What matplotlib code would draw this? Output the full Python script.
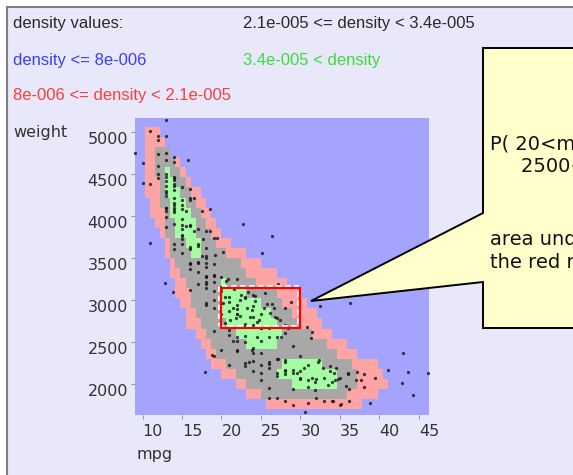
import numpy as np
import matplotlib
matplotlib.use("Agg")
import matplotlib.pyplot as plt
from matplotlib.colors import ListedColormap
from matplotlib.patches import Rectangle, Polygon
from matplotlib.lines import Line2D
from matplotlib.transforms import offset_copy

# ---------------- density bands ----------------
# one row per weight step; each band is given by its mpg extent in that row
row_weight = [5000, 4880, 4760, 4640, 4520, 4400, 4280, 4160, 4040, 3920,
              3800, 3680, 3560, 3440, 3320, 3200, 3080, 2960, 2840, 2720,
              2600, 2480, 2360, 2240, 2120, 2000, 1880, 1760]
row_step = 120

red_lo = [10.57, 10.57, 10.57, 10.57, 10.57, 10.57, 10.57, 10.70, 10.95, 11.58,
          12.47, 12.85, 13.10, 13.35, 13.73, 14.11, 14.49, 14.75, 15.38, 15.76,
          16.65, 17.28, 17.91, 18.80, 20.06, 21.71, 22.97, 25.51]
red_hi = [12.47, 13.10, 13.73, 14.75, 15.76, 16.39, 17.28, 17.91, 18.54, 19.43,
          20.06, 21.33, 22.97, 25.13, 26.77, 28.04, 29.94, 30.95, 31.84, 32.72,
          34.11, 35.63, 37.53, 39.81, 40.70, 40.95, 40.06, 37.78]

gray_lo = [None, None, 11.58, 11.58, 11.84, 11.96, 12.22, 12.47, 12.59, 12.85,
           13.10, 13.23, 13.73, 14.49, 15.13, 15.63, 16.01, 16.27, 16.65, 17.28,
           17.91, 18.80, 19.56, 20.44, 21.96, 23.35, 24.87, None]
gray_hi = [None, None, 13.23, 14.11, 14.75, 15.38, 16.01, 16.65, 17.28, 17.91,
           18.54, 19.43, 20.70, 22.34, 23.35, 24.62, 26.77, 27.78, 28.67, 29.56,
           31.20, 33.10, 34.37, 36.52, 37.28, 37.28, 35.63, None]

green_lo = [None, None, None, None, 12.59, 12.85, 13.10, 13.23, 13.48, 13.86,
            14.49, 15.38, 16.27, None, None, 19.81, 19.68, 19.68, 19.94, 20.44,
            22.09, 23.35, None, 27.41, 27.28, 28.67, None, None]
green_hi = [None, None, None, None, 13.73, 14.49, 15.00, 15.63, 16.01, 16.65,
            17.03, 17.28, 17.15, None, None, 20.82, 22.97, 25.13, 26.39, 27.03,
            27.41, 26.77, None, 32.47, 34.75, 34.75, None, None]

band_colors = ["#a4a4ff", "#ffa4a4", "#a8a8a8", "#a4ffa4"]

# ---------------- cars ----------------
heavy_mpg = [9, 10, 10, 11, 11, 11, 12, 12, 12, 12,
             12, 12, 13, 13, 13, 13, 13, 13, 13, 13,
             13, 13, 13, 13, 13, 13, 13, 13, 14, 14,
             14, 14, 14, 14, 14, 14, 14, 14, 14, 14,
             14, 14, 14, 14, 14, 15, 15, 15, 15, 15,
             15, 15, 15, 15, 15, 15, 15, 15.5, 15.5, 15.8,
             16, 16, 16, 16, 16, 16, 16, 16, 16, 16.5,
             16.5, 17, 17, 17, 17, 17, 17.5, 17.5, 17.6, 18,
             18, 18, 18, 18, 18.5, 18.5, 19, 19, 19.2, 19.4,
             20.2, 22.7, 26.4, 25.1]
heavy_wt = [4750, 4630, 4390, 4380, 3680, 5010, 4955, 4735, 4456, 4499,
            4906, 4600, 5140, 4746, 4502, 4422, 4098, 4294, 4464, 4363,
            4237, 4951, 3988, 4100, 4274, 3870, 4668, 4055, 4354, 4312,
            4425, 4209, 4464, 4154, 4096, 4385, 4129, 3672, 4042, 4077,
            4638, 4457, 4699, 3900, 3609, 4341, 3850, 3563, 3761, 4135,
            3892, 3777, 3730, 4082, 3962, 4190, 3672, 4054, 3880, 4665,
            3433, 3439, 4220, 3880, 4325, 3632, 3897, 4190, 3610, 3820,
            4215, 3449, 3672, 3445, 3840, 3645, 4060, 3520, 3725, 3504,
            3436, 3821, 3620, 3525, 3820, 4080, 3425, 3735, 3535, 3735,
            3570, 3905, 3760, 3560]

mid_mpg = [12.8, 13.9, 16, 16, 17, 17, 18, 18, 18, 18,
           18, 18, 18, 18, 19, 19, 19, 19, 19, 19,
           19, 20, 20, 20, 20, 20, 20, 20.5, 20.6, 20.2,
           20.8, 21, 21, 21, 21, 21.6, 21.5, 22, 22, 22,
           22, 22, 22.5, 22.4, 23, 23, 23, 23, 23.2, 23.6,
           24, 24, 24, 24, 24.5, 24.3, 24.2, 25, 25, 25,
           25.4, 25.8, 26, 26.4, 26.6, 26.8, 27, 27.2, 28, 28.4,
           28.8, 32.5, 36.3, 31.5, 30.8, 21.1, 22.3, 23.8, 24.8, 25.5,
           26.2, 27.4, 21.8, 20.4, 23.4, 28.1]
mid_wt = [3200, 3100, 3365, 3121, 3329, 3190, 3288, 3278, 3193, 3211,
          3399, 3139, 2962, 2945, 3302, 3282, 3102, 3211, 2901, 2634,
          3000, 3102, 3270, 3140, 2965, 2835, 3150, 3040, 3230, 2965,
          3245, 2648, 2979, 3039, 2875, 3130, 2900, 2833, 2835, 3250,
          2945, 2890, 3060, 2815, 3021, 2710, 3035, 2695, 2900, 2800,
          2702, 2930, 2800, 3060, 2740, 3050, 2990, 2672, 2833, 2671,
          2900, 2950, 2671, 2950, 2900, 2800, 2790, 3190, 2700, 2670,
          2980, 2930, 2965, 2620, 2680, 2760, 3000, 2880, 2760, 3080,
          2850, 2760, 2790, 2730, 3100, 2900]

light_mpg = [17.9, 18.8, 19, 20, 21, 21, 21.5, 22, 22, 22,
             22, 23, 23, 23, 23, 23.5, 23.9, 24, 24, 24,
             24, 24.5, 25, 25, 25, 25, 25, 26, 26, 26,
             26, 26, 26, 27, 27, 27, 27, 27, 27.2, 27.5,
             28, 28, 28, 28, 28, 28, 28.1, 29, 29, 29,
             29, 29.5, 29.9, 29, 30, 30, 30, 30.5, 30.9, 30.6,
             31, 31, 31, 31.5, 31.3, 31.8, 31.9, 32, 32, 32.4,
             32.2, 32.8, 33, 33, 33.5, 33.8, 33.7, 34, 34, 34.1,
             34.2, 34.5, 34.7, 34.4, 35, 35, 35.1, 35.7, 36, 36.1,
             36.1, 36, 37, 37.2, 37.7, 38, 38, 38.8, 39.4, 41.1,
             43.6, 46.1, 43, 42.8, 44.2]
light_wt = [2140, 2345, 2330, 2408, 2587, 2226, 2515, 2408, 2511, 2395,
            2565, 2506, 2254, 2220, 2572, 2265, 2405, 2372, 2430, 2278,
            2158, 2560, 2375, 2228, 2046, 2126, 2511, 2234, 1835, 1955,
            2189, 2265, 2565, 2130, 1834, 2100, 2300, 2560, 2300, 2560,
            2264, 2123, 2164, 2288, 2155, 2605, 1800, 1937, 2171, 2130,
            2455, 2135, 2335, 1755, 2074, 2065, 2155, 2190, 2230, 1670,
            1773, 2045, 1960, 2075, 2542, 2020, 1925, 1836, 2065, 2290,
            2265, 2190, 1795, 2075, 1985, 2160, 2210, 1795, 2020, 1800,
            2130, 2190, 2065, 2045, 1750, 2070, 1760, 1980, 2120, 1800,
            1945, 2130, 2050, 2145, 2050, 2125, 1965, 1775, 2070, 2170,
            2145, 2130, 2370, 2010, 1870]

# query rectangle
rect_mpg = [20, 30]
rect_weight = [2670, 3140]

legend_items = [
    ("density values:", "#2a2a2a", 13, 28),
    ("2.1e-005 <= density < 3.4e-005", "#2a2a2a", 243, 28),
    ("density <= 8e-006", "#3c3cff", 13, 65),
    ("3.4e-005 < density", "#3cdc3c", 243, 65),
    ("8e-006 <= density < 2.1e-005", "#ff3c3c", 13, 100),
]

callout_lines = [
    ("P( 20<mpg<30,", 490, 150),
    ("2500<weight<3000 )", 521, 172),
    ("area under density over", 490, 245),
    ("the red rectangle", 490, 268),
]

# ---------------- figure ----------------
W, H = 573, 475
fig = plt.figure(figsize=(W / 100, H / 100), dpi=100, facecolor="white")


def fx(px):
    return px / W


def fy(py):
    return 1 - py / H


# window panel with its grey top/left border
fig.add_artist(Rectangle((fx(7), 0), 1 - fx(7), fy(7), transform=fig.transFigure,
                         facecolor="#e8e8fa", edgecolor="none", zorder=-2))
fig.add_artist(Line2D([fx(7), 1], [fy(7), fy(7)], transform=fig.transFigure,
                      color="#808080", lw=1.5, zorder=-1))
fig.add_artist(Line2D([fx(7), fx(7)], [0, fy(7)], transform=fig.transFigure,
                      color="#808080", lw=1.5, zorder=-1))

ax = fig.add_axes([fx(135), fy(415), fx(429) - fx(135), fy(118) - fy(415)])
xlim = (9.05, 46.27)
ylim = (1631, 5167)

# rasterise the bands onto a grid of small cells
cell = 0.64
cols = np.arange(xlim[0], xlim[1] + cell, cell)
centers = (cols[:-1] + cols[1:]) / 2


def band(lo, hi):
    lo = np.array(lo, dtype=float)[:, None]
    hi = np.array(hi, dtype=float)[:, None]
    return (centers[None, :] >= lo) & (centers[None, :] <= hi)


level = np.zeros((len(row_weight), len(centers)))
level[band(red_lo, red_hi)] = 1
level[band(gray_lo, gray_hi)] = 2
level[band(green_lo, green_hi)] = 3

rw = np.array(row_weight, dtype=float)[::-1]
yedges = np.append(rw - row_step / 2, rw[-1] + row_step / 2)
ax.set_facecolor(band_colors[0])
ax.pcolormesh(cols, yedges, level[::-1], cmap=ListedColormap(band_colors),
              vmin=-0.5, vmax=3.5, shading="flat", zorder=1)

all_mpg = heavy_mpg + mid_mpg + light_mpg
all_wt = heavy_wt + mid_wt + light_wt
ax.scatter(all_mpg, all_wt, s=5.5, marker="o", color="#141414", alpha=0.8,
           linewidths=0, zorder=3, clip_on=False)

# query rectangle: white dashes slightly offset under the red outline
shifted = offset_copy(ax.transData, fig=fig, x=-2, y=2, units="dots")
ax.add_patch(Rectangle((rect_mpg[0], rect_weight[0]), rect_mpg[1] - rect_mpg[0],
                       rect_weight[1] - rect_weight[0], transform=shifted,
                       fill=False, edgecolor="white", lw=1.3,
                       linestyle=(0, (3, 2)), zorder=4))
ax.add_patch(Rectangle((rect_mpg[0], rect_weight[0]), rect_mpg[1] - rect_mpg[0],
                       rect_weight[1] - rect_weight[0], fill=False,
                       edgecolor="#ff0000", lw=1.6, zorder=5))

ax.set_xlim(*xlim)
ax.set_ylim(*ylim)
for s in ax.spines.values():
    s.set_visible(False)
ax.set_xticks(range(10, 46, 5))
ax.set_yticks(range(2000, 5001, 500))
ax.tick_params(direction="out", length=3, width=0.8, color="#9a9a9a",
               labelsize=11.5, labelcolor="#333333")
ax.tick_params(axis="x", pad=3.5)
ax.tick_params(axis="y", pad=2)
plt.setp(ax.get_xticklabels(), ha="left")
plt.setp(ax.get_yticklabels(), va="top")

fig.text(fx(13), fy(133), "weight", fontsize=11.5, color="#333333", va="center")
fig.text(fx(136), fy(455), "mpg", fontsize=11.5, color="#333333", va="center")

for txt, col, px, py in legend_items:
    fig.text(fx(px), fy(py), txt, color=col, fontsize=12, va="baseline",
             family="Liberation Sans")

# callout balloon pointing at the rectangle; its text runs past the right edge
balloon = [(483, 48), (640, 48), (640, 328), (483, 328), (483, 282),
           (311, 301), (483, 213)]
fig.add_artist(Polygon([(fx(x), fy(y)) for x, y in balloon], closed=True,
                       transform=fig.transFigure, facecolor="#ffffcc",
                       edgecolor="black", lw=1.4, zorder=6, clip_on=False))
for txt, px, py in callout_lines:
    t = fig.text(fx(px), fy(py), txt, fontsize=14, color="#111111",
                 va="baseline")
    t.set_zorder(7)

fig.savefig("out.png", dpi=100, facecolor="white")
